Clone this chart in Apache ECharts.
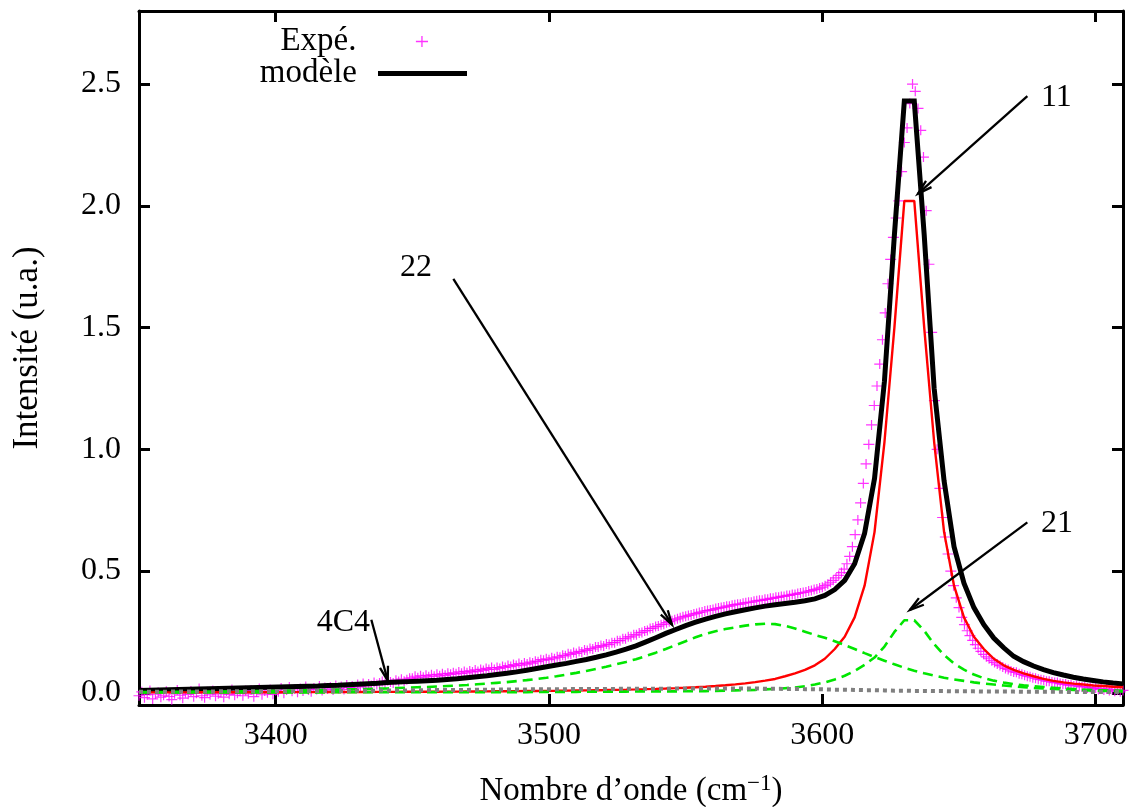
<!DOCTYPE html>
<html>
<head>
<meta charset="utf-8">
<script src="https://cdn.jsdelivr.net/npm/echarts@6/dist/echarts.min.js"></script>
<style>html,body{margin:0;padding:0;background:#fff;}#c{width:1131px;height:807px;}</style>
</head>
<body>
<div id="c"></div>
<script>
// ---- axis ticks ----
const xTicks = [3400, 3500, 3600, 3700];
const yTicks = [0, 0.5, 1.0, 1.5, 2.0, 2.5];

// ---- Expé. : measured points, one per cm-1 starting at 3350 ----
const expStart = 3350;
const expY = [
-0.012,0.004,-0.020,-0.008,0.010,-0.025,-0.005,0.002,-0.018,-0.010,
0.006,-0.015,-0.028,-0.004,0.012,-0.010,-0.022,0.000,-0.006,0.008,
-0.016,-0.002,0.018,-0.012,-0.020,0.004,-0.008,0.010,-0.014,-0.004,
0.002,-0.018,0.008,-0.006,0.014,-0.010,-0.002,0.006,-0.012,0.010,
-0.004,0.012,-0.016,0.004,0.018,-0.008,0.008,0.000,0.014,-0.006,
0.010,0.004,0.020,-0.002,0.012,0.024,0.006,0.016,0.002,0.018,
0.008,0.026,0.012,0.004,0.020,0.014,0.028,0.010,0.022,0.016,
0.024,0.012,0.030,0.018,0.026,0.014,0.032,0.022,0.028,0.020,
0.034,0.026,0.038,0.024,0.036,0.030,0.042,0.034,0.040,0.046,
0.038,0.050,0.044,0.040,0.052,0.046,0.056,0.048,0.054,0.060,
0.060,0.068,0.062,0.070,0.064,0.072,0.066,0.074,0.068,0.076,
0.070,0.078,0.072,0.080,0.076,0.082,0.078,0.086,0.080,0.088,
0.082,0.090,0.086,0.094,0.088,0.096,0.092,0.100,0.096,0.104,
0.096,0.104,0.100,0.108,0.104,0.112,0.108,0.116,0.112,0.120,
0.114,0.122,0.118,0.126,0.122,0.130,0.128,0.136,0.134,0.140,
0.136,0.144,0.140,0.148,0.146,0.154,0.152,0.160,0.158,0.166,
0.162,0.170,0.168,0.176,0.174,0.182,0.180,0.188,0.188,0.194,
0.192,0.200,0.198,0.206,0.206,0.214,0.214,0.222,0.222,0.230,
0.230,0.238,0.238,0.246,0.248,0.254,0.256,0.264,0.266,0.272,
0.274,0.280,0.282,0.288,0.292,0.296,0.300,0.304,0.308,0.312,
0.314,0.318,0.320,0.324,0.326,0.330,0.332,0.336,0.338,0.340,
0.342,0.346,0.348,0.350,0.352,0.356,0.356,0.360,0.362,0.364,
0.364,0.368,0.370,0.372,0.372,0.376,0.378,0.380,0.380,0.384,
0.384,0.388,0.388,0.392,0.392,0.396,0.396,0.400,0.400,0.404,
0.404,0.408,0.410,0.412,0.414,0.418,0.420,0.424,0.426,0.430,
0.434,0.440,0.446,0.454,0.462,0.472,0.482,0.494,0.508,0.530,
0.560,0.600,0.650,0.710,0.780,0.860,0.940,1.020,1.100,1.180,
1.260,1.350,1.450,1.560,1.680,1.780,1.870,1.950,2.020,2.140,
2.260,2.320,2.420,2.500,2.470,2.400,2.310,2.200,1.980,1.760,
1.480,1.200,1.000,0.840,0.720,0.640,0.570,0.500,0.440,0.390,
0.350,0.310,0.280,0.255,0.235,0.215,0.198,0.183,0.170,0.158,
0.148,0.140,0.132,0.125,0.118,0.112,0.106,0.100,0.096,0.090,
0.086,0.084,0.078,0.076,0.072,0.068,0.066,0.062,0.060,0.056,
0.054,0.052,0.048,0.048,0.044,0.042,0.042,0.038,0.036,0.036,
0.032,0.032,0.028,0.030,0.026,0.024,0.026,0.020,0.022,0.018,
0.020,0.014,0.018,0.012,0.016,0.010,0.014,0.006,0.012,0.004,
0.010
];

// ---- fitted curves: 100 samples evenly spread over 3350..3710 ----
const curveStart = 3350, curveEnd = 3710, curveSamples = 100;
const modele = [
0.010,0.011,0.012,0.013,0.014,0.015,0.016,0.017,0.018,0.019,
0.020,0.021,0.022,0.023,0.024,0.025,0.026,0.027,0.028,0.030,
0.031,0.033,0.035,0.037,0.039,0.042,0.044,0.046,0.048,0.050,
0.052,0.055,0.058,0.062,0.066,0.070,0.075,0.080,0.086,0.093,
0.100,0.107,0.114,0.121,0.129,0.137,0.146,0.156,0.167,0.179,
0.193,0.209,0.226,0.244,0.260,0.276,0.290,0.303,0.314,0.324,
0.333,0.341,0.349,0.356,0.362,0.367,0.372,0.378,0.386,0.400,
0.424,0.462,0.530,0.655,0.880,1.280,1.880,2.430,2.430,1.880,
1.250,0.870,0.600,0.450,0.350,0.280,0.225,0.185,0.150,0.128,
0.110,0.095,0.083,0.073,0.064,0.057,0.051,0.045,0.040,0.036
];
const band11 = [
0.0018,0.0018,0.0019,0.0019,0.0020,0.0020,0.0021,0.0021,0.0022,0.0022,
0.0023,0.0024,0.0025,0.0025,0.0026,0.0027,0.0028,0.0029,0.0030,0.0031,
0.0032,0.0033,0.0035,0.0036,0.0038,0.0039,0.0041,0.0043,0.0044,0.0046,
0.0047,0.0049,0.0051,0.0054,0.0056,0.0059,0.0062,0.0065,0.0068,0.0072,
0.0076,0.0080,0.0084,0.0089,0.0095,0.0100,0.0107,0.0114,0.0122,0.0130,
0.0140,0.0151,0.0163,0.0177,0.0192,0.0209,0.0229,0.0250,0.0278,0.0309,
0.0345,0.0387,0.044,0.050,0.057,0.068,0.080,0.094,0.113,0.140,
0.180,0.230,0.310,0.440,0.660,1.030,1.500,2.020,2.020,1.500,
1.030,0.660,0.440,0.310,0.230,0.180,0.140,0.113,0.094,0.080,
0.068,0.057,0.049,0.043,0.038,0.034,0.030,0.028,0.025,0.023
];
const band21 = [
0.002,0.002,0.002,0.002,0.002,0.002,0.002,0.002,0.002,0.002,
0.002,0.002,0.002,0.002,0.002,0.002,0.002,0.002,0.002,0.002,
0.003,0.003,0.003,0.003,0.003,0.003,0.003,0.003,0.003,0.003,
0.003,0.003,0.003,0.003,0.003,0.003,0.003,0.003,0.003,0.003,
0.004,0.004,0.004,0.004,0.004,0.005,0.005,0.005,0.005,0.005,
0.006,0.006,0.006,0.006,0.006,0.007,0.007,0.007,0.008,0.009,
0.010,0.011,0.012,0.014,0.016,0.019,0.022,0.027,0.034,0.043,
0.055,0.070,0.090,0.115,0.145,0.190,0.250,0.298,0.298,0.255,
0.200,0.155,0.120,0.095,0.075,0.060,0.050,0.042,0.036,0.031,
0.027,0.024,0.021,0.018,0.016,0.013,0.011,0.010,0.009,0.008
];
const band22 = [
0.003,0.003,0.003,0.004,0.004,0.004,0.005,0.005,0.005,0.006,
0.006,0.007,0.007,0.008,0.008,0.009,0.010,0.010,0.011,0.012,
0.013,0.014,0.015,0.016,0.017,0.018,0.020,0.021,0.023,0.024,
0.026,0.028,0.030,0.032,0.035,0.038,0.041,0.044,0.048,0.052,
0.057,0.062,0.068,0.075,0.082,0.090,0.098,0.107,0.117,0.127,
0.138,0.151,0.165,0.180,0.196,0.212,0.228,0.242,0.253,0.262,
0.269,0.276,0.281,0.284,0.282,0.275,0.264,0.251,0.238,0.226,
0.212,0.196,0.180,0.163,0.147,0.132,0.117,0.103,0.091,0.080,
0.071,0.062,0.055,0.049,0.043,0.038,0.034,0.030,0.026,0.023,
0.020,0.018,0.016,0.014,0.012,0.011,0.009,0.008,0.007,0.006
];
const band4C4 = [
0.004,0.004,0.004,0.005,0.005,0.005,0.005,0.005,0.006,0.006,
0.006,0.006,0.006,0.007,0.007,0.007,0.007,0.007,0.008,0.008,
0.008,0.008,0.009,0.009,0.009,0.010,0.010,0.010,0.011,0.011,
0.012,0.012,0.012,0.012,0.013,0.013,0.013,0.014,0.014,0.014,
0.015,0.015,0.015,0.015,0.016,0.016,0.016,0.016,0.016,0.017,
0.017,0.017,0.017,0.017,0.018,0.018,0.018,0.018,0.018,0.018,
0.018,0.018,0.018,0.017,0.017,0.016,0.016,0.015,0.015,0.014,
0.013,0.013,0.012,0.011,0.011,0.010,0.009,0.009,0.008,0.008,
0.007,0.007,0.006,0.006,0.006,0.005,0.005,0.005,0.005,0.004,
0.004,0.004,0.004,0.004,0.003,0.003,0.003,0.003,0.003,0.003
];

// ---- annotations (data coordinates) ----
const annLabels = ['11', '21', '22', '4C4'];
const annTextX  = [3680, 3680, 3445.5, 3415];
const annTextY  = [2.444, 0.693, 1.745, 0.288];
const annFromX  = [3675, 3675, 3465, 3435];
const annFromY  = [2.45, 0.70, 1.70, 0.30];
const annToX    = [3635, 3632, 3545, 3441];
const annToY    = [2.05, 0.34, 0.28, 0.05];

// ---------------------------------------------------------------
const FONT = 'Liberation Serif';
const curveStep = (curveEnd - curveStart) / (curveSamples - 1);
const toCurve = arr => arr.map((v, i) => [curveStart + i * curveStep, v]);
const expData = expY.map((v, i) => [expStart + i, v]);
const plusPath = 'path://M0,4.4L11,4.4L11,5.6L0,5.6Z M4.9,0L6.1,0L6.1,10L4.9,10Z';
const lineIcon = 'path://M0,0L89,0L89,5L0,5Z';

const chart = echarts.init(document.getElementById('c'), null, {renderer: 'canvas'});

const axisBase = (extra) => Object.assign({
  type: 'value',
  splitLine: {show: false},
  axisLine: {show: true, onZero: false, lineStyle: {color: '#000', width: 3}},
}, extra);

const legendText = {fontFamily: FONT, fontSize: 33, color: '#000', padding: [0, 16, 0, 0]};

const option = {
  animation: false,
  backgroundColor: '#fff',
  textStyle: {fontFamily: FONT},
  grid: {left: 139, right: 8, top: 11, bottom: 102, containLabel: false, outerBoundsMode: 'none'},
  legend: [
    {
      data: [{name: 'Expé.', icon: plusPath}], orient: 'vertical', right: 703, top: 25, padding: 0,
      align: 'right', itemWidth: 89, itemHeight: 11, selectedMode: false, symbolKeepAspect: true,
      textStyle: legendText
    },
    {
      data: [{name: 'modèle', icon: lineIcon}], orient: 'vertical', right: 664, top: 57, padding: 0,
      align: 'right', itemWidth: 89, itemHeight: 5, selectedMode: false, symbolKeepAspect: false,
      textStyle: legendText
    }
  ],
  xAxis: [
    axisBase({
      position: 'bottom', min: 3350, max: 3710,
      axisTick: {show: true, inside: true, length: 11, customValues: xTicks, lineStyle: {color: '#000', width: 3}},
      axisLabel: {customValues: xTicks, fontFamily: FONT, fontSize: 32, color: '#000', margin: 15,
                  formatter: v => String(v)},
      name: 'Nombre d\u2019onde (cm{sup|\u22121})',
      nameLocation: 'middle', nameGap: 67,
      nameTextStyle: {
        fontFamily: FONT, fontSize: 33, color: '#000',
        rich: {sup: {fontFamily: FONT, fontSize: 23, color: '#000', padding: [0, 0, 16, 0]}}
      }
    }),
    axisBase({
      position: 'top', min: 3350, max: 3710,
      axisTick: {show: true, inside: true, length: 11, customValues: xTicks, lineStyle: {color: '#000', width: 3}},
      axisLabel: {show: false}
    })
  ],
  yAxis: [
    axisBase({
      position: 'left', min: -0.05, max: 2.8,
      axisTick: {show: true, inside: true, length: 11, customValues: yTicks, lineStyle: {color: '#000', width: 3}},
      axisLabel: {customValues: yTicks, fontFamily: FONT, fontSize: 32, color: '#000', margin: 18,
                  formatter: v => v.toFixed(1)},
      name: 'Intensité (u.a.)', nameLocation: 'middle', nameGap: 94, nameRotate: 90,
      nameTextStyle: {fontFamily: FONT, fontSize: 35, color: '#000', padding: [0, 0, 0, 20]}
    }),
    axisBase({
      position: 'right', min: -0.05, max: 2.8,
      axisTick: {show: true, inside: true, length: 11, customValues: yTicks, lineStyle: {color: '#000', width: 3}},
      axisLabel: {show: false}
    })
  ],
  series: [
    {
      name: 'Expé.', type: 'scatter', data: expData, symbol: plusPath, symbolSize: [11, 10],
      itemStyle: {color: '#ff00ff'}, clip: true, z: 2
    },
    {
      name: 'modèle', type: 'line', data: toCurve(modele), showSymbol: false, symbol: 'none',
      lineStyle: {color: '#000', width: 5, join: 'miter'}, itemStyle: {color: '#000'}, z: 3, clip: true
    },
    {
      name: '11', type: 'line', data: toCurve(band11), showSymbol: false, symbol: 'none',
      lineStyle: {color: '#ff0000', width: 2.4}, z: 4, clip: true
    },
    {
      name: '21', type: 'line', data: toCurve(band21), showSymbol: false, symbol: 'none',
      lineStyle: {color: '#00e600', width: 2.6, type: [10, 6]}, z: 4, clip: true
    },
    {
      name: '22', type: 'line', data: toCurve(band22), showSymbol: false, symbol: 'none',
      lineStyle: {color: '#00e600', width: 2.6, type: [10, 6]}, z: 4, clip: true
    },
    {
      name: '4C4', type: 'line', data: toCurve(band4C4), showSymbol: false, symbol: 'none',
      lineStyle: {color: '#808080', width: 4, type: [4, 4]}, z: 4, clip: true
    },
    {
      name: 'annotations', type: 'custom', clip: false, z: 10, silent: true,
      data: annLabels.map((_, i) => [annToX[i], annToY[i]]),
      encode: {x: 0, y: 1},
      renderItem: function (params, api) {
        const i = params.dataIndex;
        const p1 = api.coord([annFromX[i], annFromY[i]]);
        const p2 = api.coord([annToX[i], annToY[i]]);
        const t = api.coord([annTextX[i], annTextY[i]]);
        const ang = Math.atan2(p2[1] - p1[1], p2[0] - p1[0]);
        const L = 15, a = 0.28;
        const h1 = [p2[0] - L * Math.cos(ang - a), p2[1] - L * Math.sin(ang - a)];
        const h2 = [p2[0] - L * Math.cos(ang + a), p2[1] - L * Math.sin(ang + a)];
        return {
          type: 'group',
          children: [
            {type: 'line', shape: {x1: p1[0], y1: p1[1], x2: p2[0], y2: p2[1]},
             style: {stroke: '#000', lineWidth: 2.3}},
            {type: 'polyline', shape: {points: [h1, p2, h2]},
             style: {stroke: '#000', lineWidth: 2.3, fill: null}},
            {type: 'text', x: t[0], y: t[1],
             style: {text: annLabels[i], fill: '#000', fontFamily: FONT, fontSize: 32,
                     align: 'left', verticalAlign: 'middle'}}
          ]
        };
      }
    }
  ]
};
chart.setOption(option);
</script>
</body>
</html>
